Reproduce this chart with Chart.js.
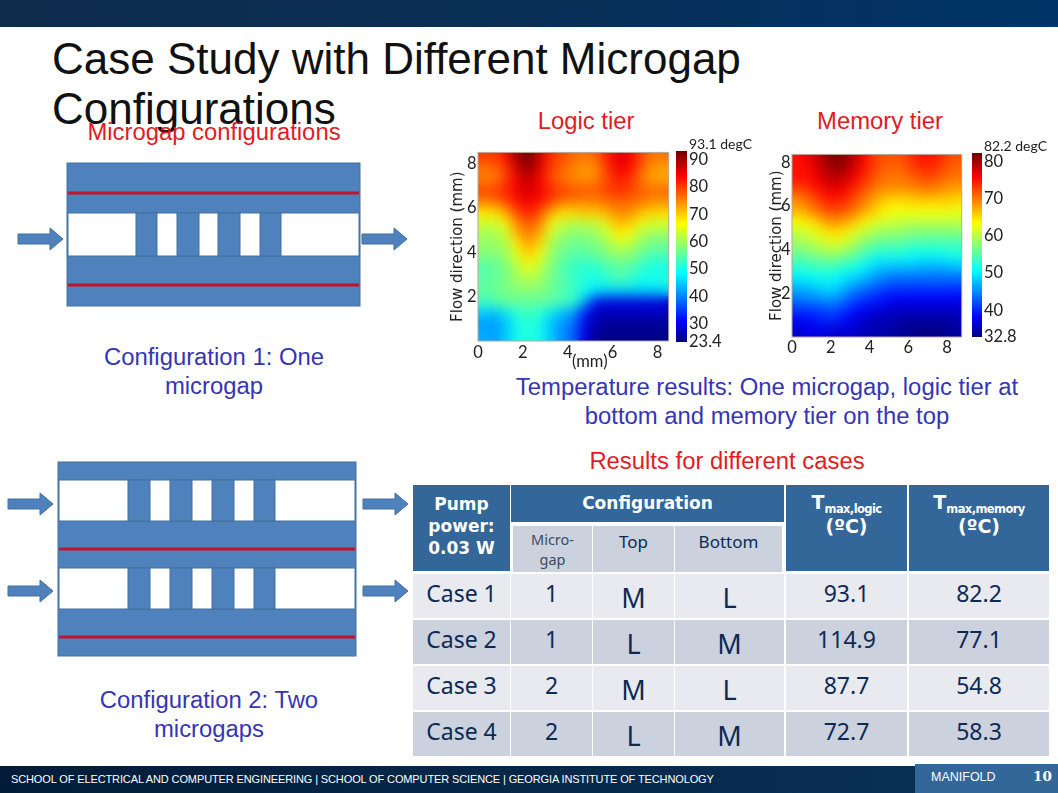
<!DOCTYPE html>
<html>
<head>
<meta charset="utf-8">
<title>Case Study with Different Microgap Configurations</title>
<script src="https://cdn.jsdelivr.net/npm/chart.js@4/dist/chart.umd.min.js"></script>
<style>
    html, body { margin: 0; padding: 0; background: #fff; }
    #slide { position: relative; width: 1058px; height: 793px; overflow: hidden; font-family: "Liberation Sans", Arial, sans-serif; }
    #slide > canvas, #slide > svg, .abs { position: absolute; }
    .topbar { left: 0; top: 0; width: 1058px; height: 27px; background: linear-gradient(90deg, #0e2c4c 0%, #0a2f55 45%, #003468 100%); }
    .footer { left: 0; top: 766px; width: 1058px; height: 27px; background: linear-gradient(90deg, #001c38 0%, #062a4c 60%, #0b3257 100%); }
    .pagebox { left: 915px; top: 764px; width: 143px; height: 29px; background: #336699; }
    .title { left: 52px; top: 34px; width: 760px; font-size: 44px; line-height: 50px; color: #111; }
    .label { text-align: center; font-size: 23.85px; line-height: 29px; white-space: nowrap; }
    .red { color: #e31b23; }
    .blue { color: #3535b5; }
    .cell { box-sizing: border-box; display: flex; align-items: center; justify-content: center; text-align: center; font-family: "Noto Sans", sans-serif; color: #0c2a55; }
    .head { color: #fff; font-family: "DejaVu Sans", sans-serif; font-weight: 700; font-size: 17px; line-height: 22px; background: #336699; }
    .head sub { font-size: 11.5px; vertical-align: baseline; position: relative; top: 4px; letter-spacing: -0.6px; }
</style>
</head>
<body>
<div id="slide">

    <div class="abs topbar"></div>
    <div class="abs title">Case Study with Different Microgap Configurations</div>

    <div class="abs label red" style="left:64px; top:117px; width:300px;">Microgap configurations</div>
    <div class="abs label red" style="left:486px; top:106px; width:200px;">Logic tier</div>
    <div class="abs label red" style="left:780px; top:106px; width:200px;">Memory tier</div>

    <svg id="diagram" width="1058" height="793" style="left:0; top:0;"></svg>

    <canvas id="logicMap" width="232" height="225" style="left:445px; top:141px;"></canvas>
    <canvas id="logicBar" width="90" height="220" style="left:670px; top:135px;"></canvas>
    <canvas id="memoryMap" width="202" height="225" style="left:768px; top:143px;"></canvas>
    <canvas id="memoryBar" width="92" height="216" style="left:966px; top:137px;"></canvas>

    <div class="abs" style="left:572px; top:351px; font-family:Lato, sans-serif; font-size:16.5px; color:#222;">(mm)</div>

    <div class="abs label blue" style="left:64px; top:342px; width:300px;">Configuration 1: One<br>microgap</div>
    <div class="abs label blue" style="left:59px; top:685px; width:300px;">Configuration 2: Two<br>microgaps</div>
    <div class="abs label blue" style="left:467px; top:372px; width:600px;">Temperature results: One microgap, logic tier at<br>bottom and memory tier on the top</div>
    <div class="abs label red" style="left:577px; top:446px; width:300px;">Results for different cases</div>

    <div id="table"></div>

    <div class="abs footer"></div>
    <div class="abs pagebox"></div>
    <div class="abs" style="left:11px; top:773px; font-size:11px; letter-spacing:-0.12px; color:#fff; white-space:nowrap;">SCHOOL OF ELECTRICAL AND COMPUTER ENGINEERING | SCHOOL OF COMPUTER SCIENCE | GEORGIA INSTITUTE OF TECHNOLOGY</div>
    <div class="abs" style="left:931px; top:770px; font-size:12.5px; color:#fff;">MANIFOLD</div>
    <div class="abs" style="left:1033px; top:768px; font-family:'DejaVu Serif', serif; font-weight:700; font-size:13.5px; color:#fff;">10</div>

</div>

<script>
// cell centres in mm, rows run from the top of the map to the bottom
const rowCentres = [8.25, 7.75, 7.25, 6.75, 6.25, 5.75, 5.25, 4.75, 4.25, 3.75, 3.25, 2.75, 2.25, 1.75, 1.25, 0.75, 0.25];
const logicColumns = [0.25, 0.75, 1.25, 1.75, 2.25, 2.75, 3.25, 3.75, 4.25, 4.75, 5.25, 5.75, 6.25, 6.75, 7.25, 7.75, 8.25];
const memoryColumns = [0.25, 0.75, 1.25, 1.75, 2.25, 2.75, 3.25, 3.75, 4.25, 4.75, 5.25, 5.75, 6.25, 6.75, 7.25, 7.75, 8.25, 8.75];

const logicTemps = [
    [80, 80, 83, 90, 93, 87, 81, 79, 77, 76, 77, 82, 86, 85, 80, 76, 76],
    [76, 76, 80, 87, 91, 86, 80, 77, 75, 73, 74, 80, 85, 84, 78, 73, 73],
    [76, 75, 80, 85, 88, 84, 79, 76, 75, 74, 75, 79, 82, 81, 76, 73, 73],
    [79, 80, 82, 85, 87, 85, 82, 80, 79, 78, 78, 80, 81, 80, 78, 77, 77],
    [75, 76, 79, 83, 85, 83, 79, 76, 75, 75, 75, 76, 77, 77, 76, 74, 74],
    [68, 68, 72, 79, 82, 79, 72, 68, 69, 70, 70, 72, 75, 74, 71, 69, 69],
    [63, 62, 66, 75, 78, 75, 66, 62, 61, 61, 62, 65, 71, 70, 65, 63, 63],
    [60, 60, 63, 71, 76, 72, 63, 59, 58, 58, 59, 62, 67, 66, 61, 59, 59],
    [59, 59, 60, 67, 73, 68, 60, 57, 56, 56, 57, 59, 62, 61, 58, 56, 56],
    [57, 57, 59, 64, 69, 65, 59, 56, 54, 54, 55, 57, 58, 58, 55, 53, 53],
    [54, 55, 57, 61, 65, 62, 57, 54, 52, 51, 51, 53, 55, 54, 52, 50, 50],
    [55, 56, 57, 60, 61, 60, 57, 55, 53, 51, 50, 52, 54, 53, 50, 50, 51],
    [55, 56, 57, 58, 58, 58, 56, 54, 53, 50, 47, 46, 46, 46, 46, 46, 46],
    [53, 54, 56, 56, 55, 56, 55, 54, 52, 44, 30, 29, 29, 29, 29, 29, 29],
    [45, 44, 47, 52, 53, 52, 47, 44, 42, 32, 27, 27, 27, 27, 27, 27, 27],
    [42, 41, 44, 50, 51, 50, 44, 41, 39, 30, 26, 25, 25, 25, 25, 25, 25],
    [43, 42, 45, 50, 51, 50, 45, 41, 38, 29, 25, 24, 24, 24, 24, 24, 24]
];

const memoryTemps = [
    [75, 76, 78, 80, 82, 81, 79, 76, 73, 72, 72, 72, 74, 75, 75, 74, 72, 72],
    [75, 75, 77, 79, 81, 80, 78, 75, 73, 71, 71, 71, 73, 74, 74, 73, 71, 71],
    [75, 75, 76, 78, 79, 78, 76, 74, 72, 70, 70, 70, 71, 72, 72, 71, 70, 70],
    [72, 73, 75, 76, 77, 76, 74, 72, 70, 69, 69, 69, 69, 70, 70, 69, 68, 68],
    [69, 70, 72, 74, 75, 74, 72, 70, 68, 66, 65, 65, 66, 66, 66, 66, 66, 65],
    [67, 68, 70, 72, 72, 72, 70, 68, 66, 64, 63, 63, 63, 63, 63, 63, 63, 62],
    [63, 64, 65, 68, 69, 68, 66, 64, 62, 61, 61, 60, 60, 60, 60, 60, 60, 60],
    [60, 61, 62, 64, 65, 64, 62, 60, 59, 58, 58, 58, 57, 57, 57, 57, 57, 57],
    [58, 59, 60, 61, 62, 61, 59, 57, 56, 55, 55, 55, 54, 54, 54, 54, 54, 54],
    [56, 56, 57, 58, 58, 57, 56, 54, 52, 52, 52, 52, 51, 51, 51, 51, 52, 52],
    [53, 53, 54, 54, 54, 53, 52, 51, 49, 48, 48, 48, 48, 47, 47, 47, 48, 48],
    [50, 51, 51, 52, 51, 50, 49, 48, 46, 45, 44, 44, 44, 44, 44, 44, 44, 44],
    [47, 47, 48, 49, 49, 47, 45, 44, 43, 42, 41, 41, 41, 41, 41, 41, 41, 41],
    [44, 45, 45, 46, 46, 44, 42, 41, 40, 39, 38, 38, 38, 38, 38, 38, 38, 38],
    [41, 41, 41, 42, 42, 41, 39, 38, 37, 37, 36, 36, 36, 36, 36, 36, 36, 36],
    [38, 38, 39, 40, 40, 38, 37, 36, 35, 35, 35, 34, 34, 34, 34, 34, 34, 35],
    [36, 37, 37, 37, 36, 36, 36, 35, 35, 35, 34, 34, 33, 33, 33, 33, 34, 34]
];

const mapXTicks = [0, 2, 4, 6, 8];
const mapYTicks = [2, 4, 6, 8];
const logicBarTicks = [23.4, 30, 40, 50, 60, 70, 80, 90, 93.1];
const memoryBarTicks = [32.8, 40, 50, 60, 70, 80, 82.2];

const caseNames = ["Case 1", "Case 2", "Case 3", "Case 4"];
const microgapCounts = ["1", "1", "2", "2"];
const topTiers = ["M", "L", "M", "L"];
const bottomTiers = ["L", "M", "L", "M"];
const tmaxLogic = ["93.1", "114.9", "87.7", "72.7"];
const tmaxMemory = ["82.2", "77.1", "54.8", "58.3"];

const jetStops = [
    [0, [0, 0, 128]],
    [0.11, [0, 0, 255]],
    [0.36, [0, 255, 255]],
    [0.62, [255, 255, 0]],
    [0.87, [255, 0, 0]],
    [1, [110, 0, 0]]
];

function jetColor(t) {

    for (let i = 1; i < jetStops.length; i++) {

        if (t <= jetStops[i][0]) {
            const a = jetStops[i - 1];
            const b = jetStops[i];
            const f = (t - a[0]) / (b[0] - a[0]);
            const c = a[1].map((v, k) => Math.round(v + (b[1][k] - v) * f));
            return "rgb(" + c.join(",") + ")";
        }

    }

    return "rgb(110,0,0)";

}

// softens the cells the way the exported contour image looks
const smoothCells = {

    id: "smoothCells",

    afterDatasetsDraw(chart) {

        const a = chart.chartArea;
        const r = chart.currentDevicePixelRatio;
        const w = a.right - a.left;
        const h = a.bottom - a.top;
        const ctx = chart.ctx;

        ctx.save();
        ctx.beginPath();
        ctx.rect(a.left, a.top, w, h);
        ctx.clip();
        ctx.filter = "blur(5px)";
        ctx.drawImage(chart.canvas, a.left * r, a.top * r, w * r, h * r, a.left, a.top, w, h);
        ctx.drawImage(chart.canvas, a.left * r, a.top * r, w * r, h * r, a.left, a.top, w, h);
        ctx.restore();

        ctx.strokeStyle = "#b8a898";
        ctx.lineWidth = 1;
        ctx.strokeRect(a.left, a.top, w, h);

    }

};

function drawMap(id, temps, columns, opts) {

    const points = [];

    temps.forEach((row, j) => {
        row.forEach((v, i) => {
            points.push({ x: columns[i], y: rowCentres[j], v: v });
        });
    });

    new Chart(document.getElementById(id), {

        type: "scatter",

        data: {
            datasets: [
                {
                    data: points,
                    pointStyle: "rect",
                    pointRadius: 8.3,
                    pointBorderWidth: 0,
                    pointBackgroundColor(c) {
                        return jetColor((c.raw.v - opts.min) / (opts.max - opts.min));
                    }
                }
            ]
        },

        options: {
            responsive: false,
            animation: false,
            events: [],
            layout: { padding: opts.padding },
            plugins: { legend: { display: false }, tooltip: { enabled: false } },
            scales: {
                x: {
                    type: "linear",
                    min: 0,
                    max: opts.xMax,
                    grid: { display: false, drawTicks: false },
                    border: { display: false },
                    afterBuildTicks(scale) {
                        scale.ticks = mapXTicks.map(v => ({ value: v }));
                    },
                    afterFit(scale) {
                        scale.height = opts.xHeight;
                    },
                    ticks: { color: "#222", padding: opts.xPad, maxRotation: 0, font: { family: "Lato", size: 16.5 } }
                },
                y: {
                    type: "linear",
                    min: 0,
                    max: opts.yMax,
                    grid: { display: false, drawTicks: false },
                    border: { display: false },
                    afterBuildTicks(scale) {
                        scale.ticks = mapYTicks.map(v => ({ value: v }));
                    },
                    afterFit(scale) {
                        scale.width = opts.yWidth;
                    },
                    title: {
                        display: true,
                        text: "Flow direction (mm)",
                        color: "#222",
                        padding: 0,
                        font: { family: "DejaVu Sans", size: 15 }
                    },
                    ticks: { color: "#222", padding: 1.5, font: { family: "Lato", size: 16.5 } }
                }
            }
        },

        plugins: [smoothCells]

    });

}

function drawBar(id, ticks, opts) {

    const min = ticks[0];
    const max = ticks[ticks.length - 1];

    new Chart(document.getElementById(id), {

        type: "bar",

        data: {
            labels: [""],
            datasets: [
                {
                    data: [[min, max]],
                    barPercentage: 1,
                    categoryPercentage: 1,
                    backgroundColor(c) {
                        const a = c.chart.chartArea;
                        if (!a) {
                            return "#888";
                        }
                        const g = c.chart.ctx.createLinearGradient(0, a.bottom, 0, a.top);
                        jetStops.forEach(s => g.addColorStop(s[0], jetColor(s[0])));
                        return g;
                    }
                }
            ]
        },

        options: {
            responsive: false,
            animation: false,
            events: [],
            layout: { padding: opts.padding },
            plugins: { legend: { display: false }, tooltip: { enabled: false } },
            scales: {
                x: { display: false },
                y: {
                    position: "right",
                    min: min,
                    max: max,
                    grid: { display: false, drawTicks: false },
                    border: { display: false },
                    afterBuildTicks(scale) {
                        scale.ticks = ticks.map(v => ({ value: v }));
                    },
                    afterFit(scale) {
                        scale.width = opts.axisWidth;
                    },
                    ticks: {
                        color: "#222",
                        padding: 2,
                        autoSkip: false,
                        font(c) {
                            const top = c.tick && c.tick.value === max;
                            return { family: "Lato", size: top ? 14 : 16.5, lineHeight: 0.9 };
                        },
                        callback(v) {
                            return v === max ? [v + " degC", ""] : v;
                        }
                    }
                }
            }
        }

    });

}

drawMap("logicMap", logicTemps, logicColumns, {
    min: 23.4, max: 93.1, xMax: 8.5, yMax: 8.5,
    padding: { top: 10, right: 8, bottom: 0, left: 4 },
    xHeight: 25, yWidth: 29, xPad: 2
});

drawMap("memoryMap", memoryTemps, memoryColumns, {
    min: 32.8, max: 82.2, xMax: 8.75, yMax: 8.36,
    padding: { top: 10, right: 3, bottom: 0, left: 0 },
    xHeight: 31, yWidth: 24, xPad: 1
});

drawBar("logicBar", logicBarTicks, { padding: { top: 16, bottom: 13, left: 6, right: 0 }, axisWidth: 73 });
drawBar("memoryBar", memoryBarTicks, { padding: { top: 16, bottom: 16, left: 6, right: 0 }, axisWidth: 76 });

// microgap sketches
const blockBlue = "#4f81bd";
const blockEdge = "#41709f";
const pipeRed = "#c0142c";

function svgRect(x, y, w, h, fill, stroke) {
    return '<rect x="' + x + '" y="' + y + '" width="' + w + '" height="' + h + '" fill="' + fill + '"' +
        (stroke ? ' stroke="' + stroke + '"' : "") + "/>";
}

function svgArrow(x, y) {
    const p = [[x, y - 5], [x + 32, y - 5], [x + 32, y - 11], [x + 45, y], [x + 32, y + 11], [x + 32, y + 5], [x, y + 5]];
    return '<polygon points="' + p.map(q => q.join(",")).join(" ") + '" fill="' + blockBlue + '" stroke="' + blockEdge + '"/>';
}

function svgMicrogap(left, right, top, bottom, channels, reds, pins, arrowYs, arrowLeft, arrowRight) {

    let out = svgRect(left, top, right - left, bottom - top, blockBlue, blockEdge);

    channels.forEach(c => {
        out += svgRect(left + 1, c[0], right - left - 2, c[1] - c[0], "#fff", blockEdge);
        pins.forEach(p => {
            out += svgRect(p[0], c[0], p[1] - p[0], c[1] - c[0], blockBlue, blockEdge);
        });
    });

    reds.forEach(y => {
        out += svgRect(left + 1, y - 1.5, right - left - 2, 3, pipeRed);
    });

    arrowYs.forEach(y => {
        out += svgArrow(arrowLeft, y) + svgArrow(arrowRight, y);
    });

    return out;

}

document.getElementById("diagram").innerHTML =
    svgMicrogap(67, 360, 163, 306, [[213, 256]], [193, 285],
        [[136, 157], [177, 199], [218, 240], [260, 281]], [239], 18, 362) +
    svgMicrogap(58, 356, 462, 656, [[480, 521], [568, 609]], [549, 637],
        [[128, 150], [170, 192], [212, 234], [254, 275]], [504, 591], 8, 363);

// results table
const tableColumns = [[413, 510], [511, 592], [593, 674], [675, 784], [786, 907], [909, 1049]];
const tableRows = [[574, 618], [620, 664], [666, 710], [712, 756]];
const stripeColors = ["#e8eaf0", "#cbd2de"];

function addCell(html, x0, y0, x1, y1, cls, style) {

    const d = document.createElement("div");
    d.className = "abs cell " + cls;
    d.style.cssText = "left:" + x0 + "px;top:" + y0 + "px;width:" + (x1 - x0) + "px;height:" + (y1 - y0) + "px;" + style;
    d.innerHTML = html;
    document.getElementById("table").appendChild(d);

}

addCell("Pump<br>power:<br>0.03 W", 413, 485, 510, 571, "head", "padding-bottom:4px;");
addCell("Configuration", 511, 485, 784, 522, "head", "padding-bottom:2px;");
addCell("<span>T<sub>max,logic</sub><br>(ºC)</span>", 786, 485, 907, 571, "head", "align-items:flex-start;padding-top:7px;font-size:19px;line-height:21px;");
addCell("<span>T<sub>max,memory</sub><br>(ºC)</span>", 909, 485, 1049, 571, "head", "align-items:flex-start;padding-top:7px;font-size:19px;line-height:21px;");

addCell("Micro-<br>gap", 513, 526, 592, 572, "", "background:#cbd2de;color:#3c4a66;font-size:14.5px;line-height:20px;");
addCell("Top", 593, 526, 674, 572, "", "background:#cbd2de;font-size:17px;padding-bottom:16px;");
addCell("Bottom", 675, 526, 782, 572, "", "background:#cbd2de;font-size:17px;padding-bottom:16px;");

caseNames.forEach((name, r) => {

    const row = tableRows[r];
    const bg = "background:" + stripeColors[r % 2] + ";";
    const texts = [name, microgapCounts[r], topTiers[r], bottomTiers[r], tmaxLogic[r], tmaxMemory[r]];

    texts.forEach((t, c) => {
        const col = tableColumns[c];
        const big = c === 2 || c === 3;
        addCell(t, col[0], row[0], col[1], row[1], "",
            bg + (big ? "font-size:27px;padding-top:3px;" : "font-size:23px;padding-bottom:6px;"));
    });

});
</script>
</body>
</html>
